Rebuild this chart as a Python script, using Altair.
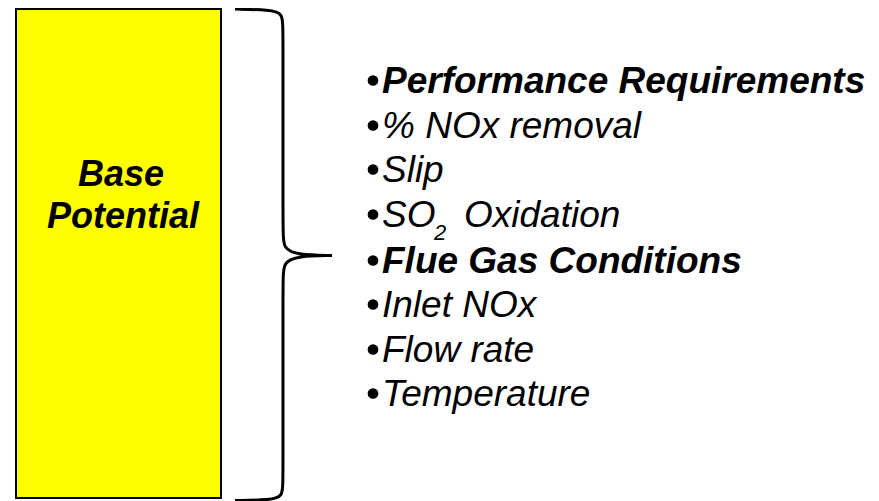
import altair as alt
import pandas as pd

# ---- content ----
box_label = ["Base", "Potential"]
list_items = ["Performance Requirements", "% NOx removal", "Slip", "SO",
              "Flue Gas Conditions", "Inlet NOx", "Flow rate", "Temperature"]
list_bold = [True, False, False, False, True, False, False, False]
sub_text = ["2"]
sub_tail = ["Oxidation"]

# ---- layout (page pixel coordinates) ----
W, H = 863, 493
xs = alt.Scale(domain=[8, 8 + W], nice=False, zero=False)
ys = alt.Scale(domain=[8, 8 + H], nice=False, zero=False, reverse=True)
FONT = "Liberation Sans, Arial, sans-serif"

box = pd.DataFrame({"x": [16], "x2": [221], "y": [9], "y2": [498]})
rect = alt.Chart(box).mark_rect(fill="#FFFF00", stroke="#000000", strokeWidth=2).encode(
    x=alt.X("x:Q", scale=xs, axis=None), x2="x2:Q",
    y=alt.Y("y:Q", scale=ys, axis=None), y2="y2:Q")

box_txt = pd.DataFrame({"t": box_label, "x": [121, 123], "y": [186, 228]})
btxt = alt.Chart(box_txt).mark_text(font=FONT, fontSize=36, fontWeight="bold", fontStyle="italic",
                                     align="center", baseline="alphabetic", color="#000000").encode(
    x=alt.X("x:Q", scale=xs, axis=None), y=alt.Y("y:Q", scale=ys, axis=None), text="t:N")

# brace control points (basis spline)
bx = [235, 270, 283, 283, 283, 283, 298, 332, 332, 332, 298, 283, 283, 283, 283, 270, 235]
by = [9, 10, 13, 30, 230, 249, 255, 255.5, 255.5, 255.5, 256, 262, 281, 480, 497, 500, 500.5]
brace_df = pd.DataFrame({"x": bx, "y": by, "o": list(range(len(bx)))})
brace = alt.Chart(brace_df).mark_line(color="#000000", strokeWidth=3, interpolate="basis").encode(
    x=alt.X("x:Q", scale=xs, axis=None), y=alt.Y("y:Q", scale=ys, axis=None), order="o:Q")

base_y = [93, 138, 182, 227, 273, 317, 362, 406]
items = pd.DataFrame({"t": list_items, "x": [382] * 8, "y": base_y,
                      "w": ["bold" if b else "normal" for b in list_bold]})
bold_txt = alt.Chart(items[items.w == "bold"]).mark_text(
    font=FONT, fontSize=37, fontWeight="bold", fontStyle="italic",
    align="left", baseline="alphabetic", color="#000000").encode(
    x=alt.X("x:Q", scale=xs, axis=None), y=alt.Y("y:Q", scale=ys, axis=None), text="t:N")
norm_txt = alt.Chart(items[items.w == "normal"]).mark_text(
    font=FONT, fontSize=37, fontWeight="normal", fontStyle="italic",
    align="left", baseline="alphabetic", color="#000000").encode(
    x=alt.X("x:Q", scale=xs, axis=None), y=alt.Y("y:Q", scale=ys, axis=None), text="t:N")

sub_df = pd.DataFrame({"t": sub_text, "x": [434], "y": [240]})
sub = alt.Chart(sub_df).mark_text(font=FONT, fontSize=22, fontStyle="italic",
                                   align="left", baseline="alphabetic", color="#000000").encode(
    x=alt.X("x:Q", scale=xs, axis=None), y=alt.Y("y:Q", scale=ys, axis=None), text="t:N")
tail_df = pd.DataFrame({"t": sub_tail, "x": [464], "y": [227]})
tail = alt.Chart(tail_df).mark_text(font=FONT, fontSize=37, fontStyle="italic",
                                     align="left", baseline="alphabetic", color="#000000").encode(
    x=alt.X("x:Q", scale=xs, axis=None), y=alt.Y("y:Q", scale=ys, axis=None), text="t:N")

bul_df = pd.DataFrame({"x": [373] * 8, "y": [b - 12.5 for b in base_y]})
bullets = alt.Chart(bul_df).mark_point(shape="circle", filled=True, size=115, color="#000000", opacity=1).encode(
    x=alt.X("x:Q", scale=xs, axis=None), y=alt.Y("y:Q", scale=ys, axis=None))

chart = alt.layer(rect, btxt, brace, bold_txt, norm_txt, sub, tail, bullets).properties(
    width=W, height=H, padding=0, autosize=alt.AutoSizeParams(type="none"),
    background="#FFFFFF"
).configure_view(stroke=None)

chart.save("out.html", embed_options={"renderer": "svg", "actions": False})
